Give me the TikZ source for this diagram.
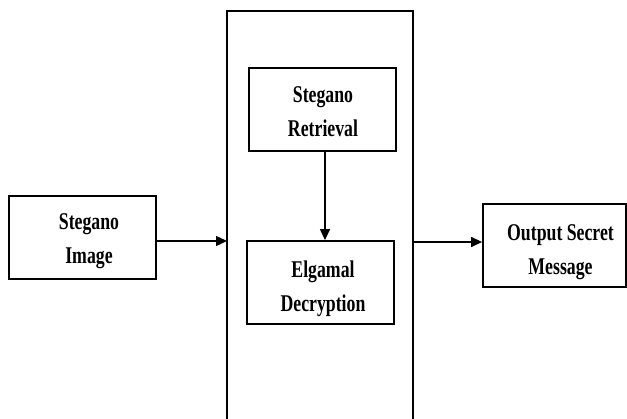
\documentclass[tikz,border=0pt]{standalone}
\usepackage{fontspec}
\newfontfamily\boxfont{Liberation Serif}[FakeStretch=0.74]
\usetikzlibrary{arrows.meta}
\begin{document}
\begin{tikzpicture}[x=1pt,y=1pt,
  block/.style={draw, line width=1.8pt, inner sep=0pt,
    minimum width=147pt, minimum height=83pt},
  caption/.style={align=center, inner sep=0pt, anchor=north,
    font=\boxfont\bfseries\fontsize{24}{34}\selectfont},
  flow/.style={line width=1.3pt, -{Triangle[length=11pt,width=10pt]}},
  frame/.style={line width=1.8pt}]
\useasboundingbox (0,0) rectangle (627,-419);

% outer processing frame, open at the bottom
\coordinate (fTL) at (227,-11);
\coordinate (fTR) at (413,-11);
\draw[frame] (227,-421) -- (fTL) -- (fTR) -- (413,-421);
\coordinate (inL) at (227,-241);
\coordinate (outR) at (413,-242);
\coordinate (dn) at (325,-150);

% blocks
\node[block] (L) at (82.5,-237.5) {};
\node[block] (R) at (322.5,-109.5) {};
\node[block] (E) at (320.5,-282.5) {};
\node[block, minimum width=143pt] (O) at (554.5,-245.5) {};

% block captions
\node[caption] (Lt) at (89,-213.7) {Stegano\\Image};
\node[caption] (Rt) at (323,-86.7) {Stegano\\Retrieval};
\node[caption] (Et) at (323,-260.7) {Elgamal\\Decryption};
\node[caption] (Ot) at (560.5,-224.7) {Output Secret\\Message};

% connectors
\draw[flow] (L.east |- inL) -- (inL);
\draw[flow] (R.south -| dn) -- (E.north -| dn);
\draw[flow] (outR) -- (outR -| O.west);
\end{tikzpicture}
\end{document}
